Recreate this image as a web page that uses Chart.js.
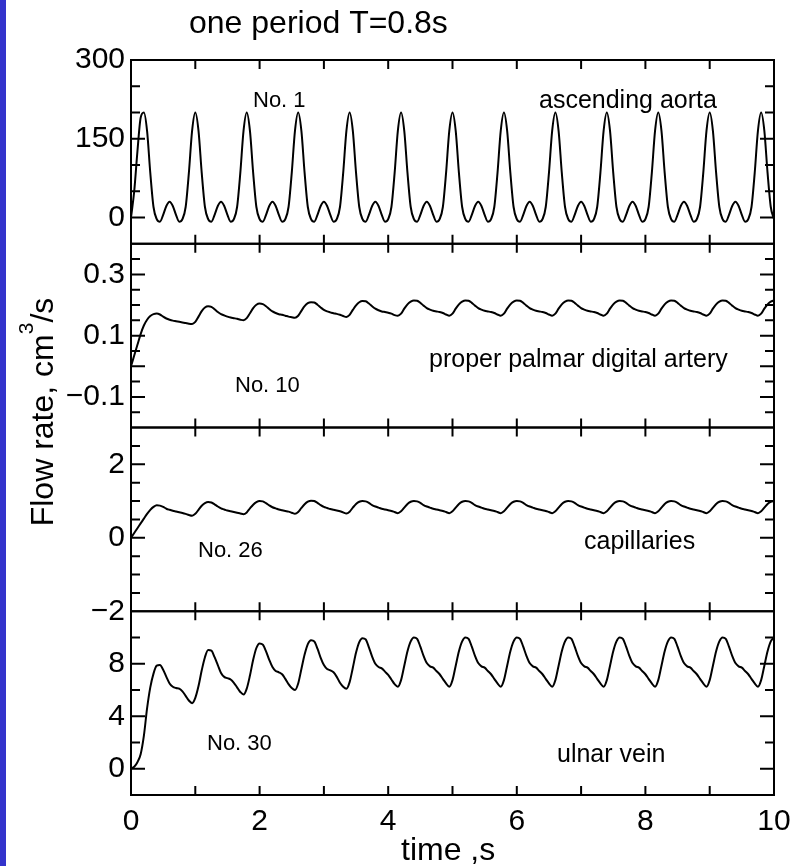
<!DOCTYPE html>
<html>
<head>
<meta charset="utf-8">
<script src="https://cdn.jsdelivr.net/npm/chart.js@4.4.0/dist/chart.umd.min.js"></script>
<style>
  html, body { margin: 0; padding: 0; background: #fff; }
  #wrap { position: relative; width: 792px; height: 866px; }
  #strip { position: absolute; left: 0; top: 0; width: 6px; height: 866px; background: #3333cc; }
  #chart { position: absolute; left: 0; top: 0; }
</style>
</head>
<body>
<div id="wrap">
  <canvas id="chart" width="792" height="866"></canvas>
  <div id="strip"></div>
</div>
<script>
// time grid, 0..10 s every 0.05 s
const time = Array.from({ length: 201 }, (_, i) => +(i * 0.05).toFixed(2));

// No. 1 ascending aorta
const aortaFlow = [
  0, 50, 126, 190, 200, 165, 85, 20, -3, -8, 5, 22, 30, 22, 5, -8,
  -3, 20, 85, 165, 200, 165, 85, 20, -3, -8, 5, 22, 30, 22, 5, -8,
  -3, 20, 85, 165, 200, 165, 85, 20, -3, -8, 5, 22, 30, 22, 5, -8,
  -3, 20, 85, 165, 200, 165, 85, 20, -3, -8, 5, 22, 30, 22, 5, -8,
  -3, 20, 85, 165, 200, 165, 85, 20, -3, -8, 5, 22, 30, 22, 5, -8,
  -3, 20, 85, 165, 200, 165, 85, 20, -3, -8, 5, 22, 30, 22, 5, -8,
  -3, 20, 85, 165, 200, 165, 85, 20, -3, -8, 5, 22, 30, 22, 5, -8,
  -3, 20, 85, 165, 200, 165, 85, 20, -3, -8, 5, 22, 30, 22, 5, -8,
  -3, 20, 85, 165, 200, 165, 85, 20, -3, -8, 5, 22, 30, 22, 5, -8,
  -3, 20, 85, 165, 200, 165, 85, 20, -3, -8, 5, 22, 30, 22, 5, -8,
  -3, 20, 85, 165, 200, 165, 85, 20, -3, -8, 5, 22, 30, 22, 5, -8,
  -3, 20, 85, 165, 200, 165, 85, 20, -3, -8, 5, 22, 30, 22, 5, -8,
  -3, 20, 85, 165, 200, 165, 85, 20, -3
];

// No. 10 proper palmar digital artery
const palmarFlow = [
  0, 0.035, 0.07, 0.105, 0.133, 0.152, 0.164, 0.17, 0.172, 0.169, 0.162, 0.156, 0.152, 0.149, 0.147, 0.145, 0.143, 0.141, 0.139,
  0.138, 0.145, 0.162, 0.18, 0.192, 0.196, 0.194, 0.186, 0.177, 0.17, 0.166, 0.162, 0.159, 0.157, 0.155, 0.152,
  0.15, 0.157, 0.173, 0.19, 0.201, 0.205, 0.203, 0.196, 0.187, 0.179, 0.174, 0.17, 0.168, 0.165, 0.162, 0.16,
  0.158, 0.165, 0.181, 0.196, 0.206, 0.209, 0.208, 0.201, 0.192, 0.184, 0.179, 0.176, 0.173, 0.171, 0.168, 0.164,
  0.161, 0.168, 0.184, 0.199, 0.209, 0.213, 0.212, 0.205, 0.196, 0.188, 0.183, 0.179, 0.177, 0.175, 0.172, 0.167,
  0.165, 0.172, 0.188, 0.202, 0.211, 0.215, 0.214, 0.207, 0.198, 0.19, 0.185, 0.181, 0.179, 0.177, 0.174, 0.169,
  0.165, 0.172, 0.188, 0.202, 0.211, 0.215, 0.214, 0.207, 0.198, 0.19, 0.185, 0.181, 0.179, 0.177, 0.174, 0.169,
  0.165, 0.172, 0.188, 0.202, 0.211, 0.215, 0.214, 0.207, 0.198, 0.19, 0.185, 0.181, 0.179, 0.177, 0.174, 0.169,
  0.165, 0.172, 0.188, 0.202, 0.211, 0.215, 0.214, 0.207, 0.198, 0.19, 0.185, 0.181, 0.179, 0.177, 0.174, 0.169,
  0.165, 0.172, 0.188, 0.202, 0.211, 0.215, 0.214, 0.207, 0.198, 0.19, 0.185, 0.181, 0.179, 0.177, 0.174, 0.169,
  0.165, 0.172, 0.188, 0.202, 0.211, 0.215, 0.214, 0.207, 0.198, 0.19, 0.185, 0.181, 0.179, 0.177, 0.174, 0.169,
  0.165, 0.172, 0.188, 0.202, 0.211, 0.215, 0.214, 0.207, 0.198, 0.19, 0.185, 0.181, 0.179, 0.177, 0.174, 0.169,
  0.165, 0.172, 0.188, 0.202, 0.211, 0.215
];

// No. 26 capillaries
const capillaryFlow = [
  0, 0.13, 0.26, 0.39, 0.52, 0.65, 0.76, 0.84, 0.885, 0.875, 0.84, 0.79, 0.76, 0.735, 0.715, 0.695, 0.675, 0.65, 0.62,
  0.6, 0.65, 0.76, 0.87, 0.94, 0.97, 0.96, 0.91, 0.85, 0.8, 0.77, 0.74, 0.72, 0.7, 0.68, 0.66,
  0.64, 0.69, 0.8, 0.9, 0.97, 1.0, 0.99, 0.94, 0.88, 0.83, 0.8, 0.77, 0.75, 0.73, 0.71, 0.68,
  0.65, 0.7, 0.81, 0.91, 0.98, 1.01, 1.0, 0.95, 0.89, 0.84, 0.81, 0.78, 0.76, 0.74, 0.72, 0.69,
  0.66, 0.71, 0.82, 0.92, 0.98, 1.0, 0.99, 0.95, 0.89, 0.85, 0.82, 0.79, 0.77, 0.75, 0.73, 0.7,
  0.67, 0.72, 0.82, 0.92, 0.98, 1.0, 0.99, 0.95, 0.89, 0.85, 0.82, 0.79, 0.77, 0.75, 0.73, 0.7,
  0.67, 0.72, 0.82, 0.92, 0.98, 1.0, 0.99, 0.95, 0.89, 0.85, 0.82, 0.79, 0.77, 0.75, 0.73, 0.7,
  0.67, 0.72, 0.82, 0.92, 0.98, 1.0, 0.99, 0.95, 0.89, 0.85, 0.82, 0.79, 0.77, 0.75, 0.73, 0.7,
  0.67, 0.72, 0.82, 0.92, 0.98, 1.0, 0.99, 0.95, 0.89, 0.85, 0.82, 0.79, 0.77, 0.75, 0.73, 0.7,
  0.67, 0.72, 0.82, 0.92, 0.98, 1.0, 0.99, 0.95, 0.89, 0.85, 0.82, 0.79, 0.77, 0.75, 0.73, 0.7,
  0.67, 0.72, 0.82, 0.92, 0.98, 1.0, 0.99, 0.95, 0.89, 0.85, 0.82, 0.79, 0.77, 0.75, 0.73, 0.7,
  0.67, 0.72, 0.82, 0.92, 0.98, 1.0, 0.99, 0.95, 0.89, 0.85, 0.82, 0.79, 0.77, 0.75, 0.73, 0.7,
  0.67, 0.72, 0.82, 0.92, 0.98, 1.0
];

// No. 30 ulnar vein
const ulnarFlow = [
  0, 0.15, 0.5, 1.1, 2.5, 4.6, 6.2, 7.25, 7.85, 7.9, 7.55, 7.0, 6.5, 6.25, 6.15, 6.1, 5.9, 5.55, 5.2,
  5.0, 5.4, 6.3, 7.5, 8.5, 9.05, 9.0, 8.5, 7.9, 7.3, 7.0, 6.9, 6.8, 6.55, 6.2, 5.85,
  5.65, 6.1, 7.1, 8.3, 9.2, 9.55, 9.45, 8.95, 8.3, 7.75, 7.45, 7.35, 7.2, 6.85, 6.45, 6.15,
  6.0, 6.5, 7.6, 8.7, 9.5, 9.8, 9.7, 9.15, 8.45, 7.9, 7.6, 7.5, 7.35, 7.0, 6.55, 6.25,
  6.1, 6.6, 7.7, 8.85, 9.65, 9.95, 9.85, 9.25, 8.55, 8.0, 7.75, 7.65, 7.4, 7.15, 6.8, 6.45,
  6.25, 6.75, 7.85, 8.95, 9.7, 10.0, 9.9, 9.3, 8.6, 8.05, 7.8, 7.7, 7.45, 7.2, 6.85, 6.5,
  6.25, 6.75, 7.85, 8.95, 9.7, 10.0, 9.9, 9.3, 8.6, 8.05, 7.8, 7.7, 7.45, 7.2, 6.85, 6.5,
  6.25, 6.75, 7.85, 8.95, 9.7, 10.0, 9.9, 9.3, 8.6, 8.05, 7.8, 7.7, 7.45, 7.2, 6.85, 6.5,
  6.25, 6.75, 7.85, 8.95, 9.7, 10.0, 9.9, 9.3, 8.6, 8.05, 7.8, 7.7, 7.45, 7.2, 6.85, 6.5,
  6.25, 6.75, 7.85, 8.95, 9.7, 10.0, 9.9, 9.3, 8.6, 8.05, 7.8, 7.7, 7.45, 7.2, 6.85, 6.5,
  6.25, 6.75, 7.85, 8.95, 9.7, 10.0, 9.9, 9.3, 8.6, 8.05, 7.8, 7.7, 7.45, 7.2, 6.85, 6.5,
  6.25, 6.75, 7.85, 8.95, 9.7, 10.0, 9.9, 9.3, 8.6, 8.05, 7.8, 7.7, 7.45, 7.2, 6.85, 6.5,
  6.25, 6.75, 7.85, 8.95, 9.7, 10.0
];

// tick labels
const xTickLabels = [0, 2, 4, 6, 8, 10];
const aortaTickLabels = [0, 150, 300];
const palmarTickLabels = [-0.1, 0.1, 0.3];
const capillaryTickLabels = [-2, 0, 2];
const ulnarTickLabels = [0, 4, 8];

const FONT = "'Liberation Sans', Arial, Helvetica, sans-serif";
const minus = v => String(v).replace('-', '\u2212');

// inward tick marks for each panel (minor step, which ones are long)
const panelTicks = {
  yAorta: { step: 50, major: [0, 150, 300] },
  yPalmar: { step: 0.05, major: [-0.1, 0, 0.1, 0.3] },
  yCap: { step: 0.5, major: [-2, 0, 2] },
  yUlnar: { step: 2, major: [0, 4, 8] }
};

const notes = [
  { text: 'one period T=0.8s', x: 189, y: 33, size: 32 },
  { text: 'No. 1', x: 253, y: 107, size: 22 },
  { text: 'ascending aorta', x: 539, y: 108, size: 25 },
  { text: 'No. 10', x: 235, y: 392, size: 22 },
  { text: 'proper palmar digital artery', x: 429, y: 367, size: 25 },
  { text: 'No. 26', x: 198, y: 557, size: 22 },
  { text: 'capillaries', x: 584, y: 549, size: 25 },
  { text: 'No. 30', x: 207, y: 750, size: 22 },
  { text: 'ulnar vein', x: 557, y: 762, size: 25 },
  { text: 'time ,s', x: 401, y: 860, size: 32 }
];

const panelFrame = {
  id: 'panelFrame',
  afterDatasetsDraw(chart) {
    const ctx = chart.ctx;
    const xs = chart.scales.x;
    const { left, right } = chart.chartArea;
    ctx.save();
    ctx.strokeStyle = '#000';
    ctx.lineWidth = 2;
    Object.keys(panelTicks).forEach(id => {
      const s = chart.scales[id];
      const cfg = panelTicks[id];
      ctx.strokeRect(left, s.top, right - left, s.bottom - s.top);
      ctx.beginPath();
      const n = Math.round((s.max - s.min) / cfg.step);
      for (let k = 1; k < n; k++) {
        const v = s.min + k * cfg.step;
        const y = s.getPixelForValue(v);
        const len = cfg.major.some(m => Math.abs(m - v) < 1e-9) ? 14 : 9;
        ctx.moveTo(left, y); ctx.lineTo(left + len, y);
        ctx.moveTo(right, y); ctx.lineTo(right - len, y);
      }
      for (let t = 1; t < 10; t++) {
        const px = xs.getPixelForValue(t);
        ctx.moveTo(px, s.top); ctx.lineTo(px, s.top + 9);
        ctx.moveTo(px, s.bottom); ctx.lineTo(px, s.bottom - 9);
      }
      ctx.stroke();
    });

    ctx.fillStyle = '#000';
    ctx.textBaseline = 'alphabetic';
    ctx.textAlign = 'left';
    notes.forEach(n => {
      ctx.font = n.size + 'px ' + FONT;
      ctx.fillText(n.text, n.x, n.y);
    });

    // y axis title spanning all panels, with a raised 3
    const big = '32px ' + FONT, small = '21px ' + FONT;
    ctx.translate(53, 412);
    ctx.rotate(-Math.PI / 2);
    ctx.font = big;
    const w1 = ctx.measureText('Flow rate, cm').width;
    const w3 = ctx.measureText('/s').width;
    ctx.font = small;
    const w2 = ctx.measureText('3').width;
    let pos = -(w1 + w2 + w3) / 2;
    ctx.font = big;
    ctx.fillText('Flow rate, cm', pos, 0);
    pos += w1;
    ctx.font = small;
    ctx.fillText('3', pos, -20);
    pos += w2;
    ctx.font = big;
    ctx.fillText('/s', pos, 0);
    ctx.restore();
  }
};

function yScale(min, max, labels, weight) {
  return {
    type: 'linear',
    position: 'left',
    stack: 'panels',
    stackWeight: 1,
    weight: weight,
    min: min,
    max: max,
    grid: { display: false, drawTicks: false },
    border: { display: false },
    afterBuildTicks: s => { s.ticks = labels.map(v => ({ value: v })); },
    afterFit: s => { s.width = 131; },
    ticks: {
      color: '#000',
      padding: 6,
      autoSkip: false,
      font: { family: FONT, size: 30 },
      callback: v => minus(v)
    }
  };
}

const line = (data, axis) => ({
  data: data,
  yAxisID: axis,
  borderColor: '#000',
  borderWidth: 2,
  pointRadius: 0,
  fill: false,
  cubicInterpolationMode: 'monotone'
});

new Chart(document.getElementById('chart'), {
  type: 'line',
  data: {
    labels: time,
    datasets: [
      line(aortaFlow, 'yAorta'),
      line(palmarFlow, 'yPalmar'),
      line(capillaryFlow, 'yCap'),
      line(ulnarFlow, 'yUlnar')
    ]
  },
  options: {
    responsive: false,
    animation: false,
    layout: { padding: { top: 60, right: 18, left: 0, bottom: 0 } },
    plugins: { legend: { display: false }, tooltip: { enabled: false }, title: { display: false } },
    scales: {
      x: {
        type: 'linear',
        position: 'bottom',
        min: 0,
        max: 10,
        grid: { display: false, drawTicks: false },
        border: { display: false },
        afterBuildTicks: s => { s.ticks = xTickLabels.map(v => ({ value: v })); },
        afterFit: s => { s.height = 71; s.paddingLeft = 0; s.paddingRight = 0; },
        ticks: { color: '#000', padding: 9, maxRotation: 0, autoSkip: false, font: { family: FONT, size: 30 } }
      },
      yUlnar: yScale(-2, 12, ulnarTickLabels, 1),
      yCap: yScale(-2, 3, capillaryTickLabels, 2),
      yPalmar: yScale(-0.2, 0.4, palmarTickLabels, 3),
      yAorta: yScale(-50, 300, aortaTickLabels, 4)
    }
  },
  plugins: [panelFrame]
});
</script>
</body>
</html>
